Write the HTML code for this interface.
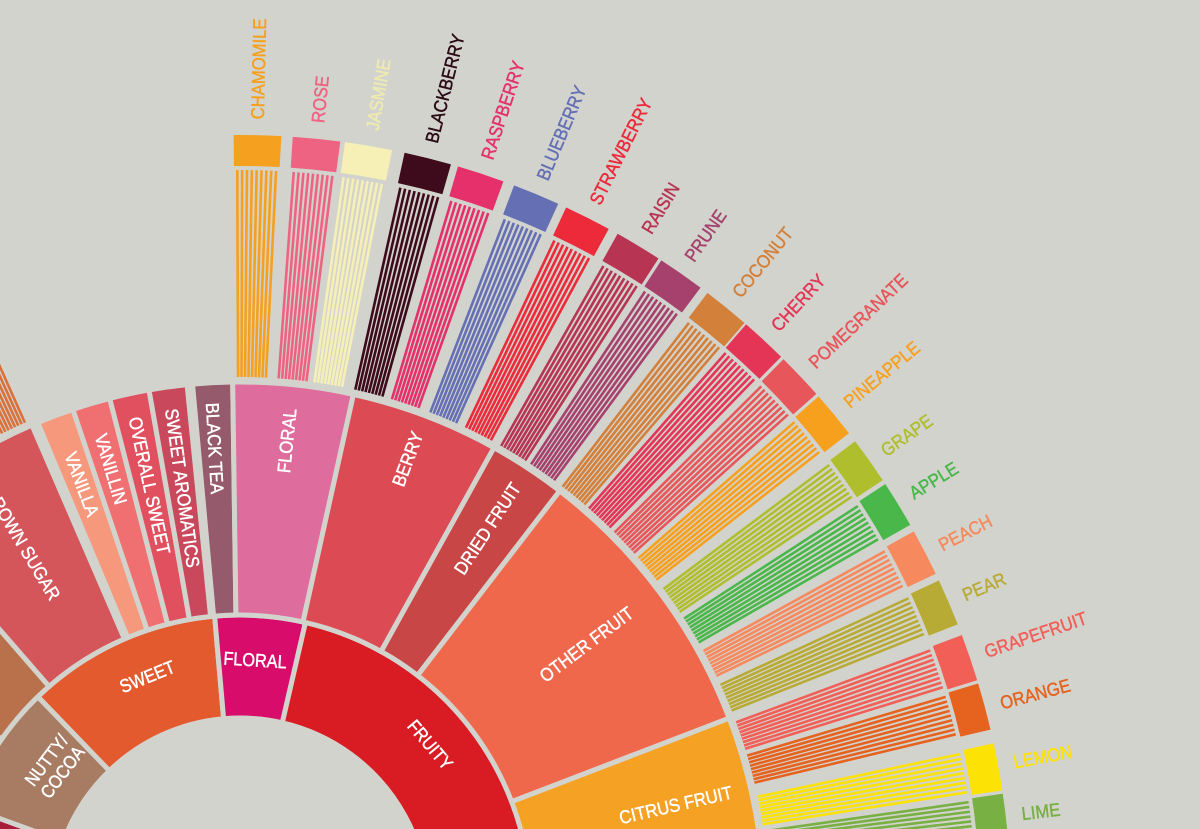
<!DOCTYPE html>
<html><head><meta charset="utf-8">
<style>
html,body{margin:0;padding:0;background:#d3d3ce;width:1200px;height:829px;overflow:hidden;}
svg{display:block;}
text{font-family:"Liberation Sans",sans-serif;stroke-width:0.45px;}
</style></head>
<body>
<svg id="s" width="1200" height="829" viewBox="0 0 1200 829" xmlns="http://www.w3.org/2000/svg">
<rect width="1200" height="829" fill="#d3d3ce"/>
<g id="shapes"></g>
<g id="labels" font-size="18.5">
<g fill="#f5a01f"><text transform="rotate(1.3,240,906) translate(240,119) rotate(-90) scale(0.9,1)" x="0" y="6">CHAMOMILE</text></g>
<g fill="#ef6382"><text transform="rotate(5.7,240,906) translate(240,119) rotate(-90) scale(0.9,1)" x="0" y="6">ROSE</text></g>
<g fill="#efeab0"><text transform="rotate(9.7,240,906) translate(240,119) rotate(-90) scale(0.9,1)" x="0" y="6">JASMINE</text></g>
<g fill="#2a0a14"><text transform="rotate(14.1,240,906) translate(240,119) rotate(-90) scale(0.9,1)" x="0" y="6">BLACKBERRY</text></g>
<g fill="#e5306b"><text transform="rotate(18.3,240,906) translate(240,119) rotate(-90) scale(0.9,1)" x="0" y="6">RASPBERRY</text></g>
<g fill="#6570b4"><text transform="rotate(22.6,240,906) translate(240,119) rotate(-90) scale(0.9,1)" x="0" y="6">BLUEBERRY</text></g>
<g fill="#ec2a3a"><text transform="rotate(26.8,240,906) translate(240,119) rotate(-90) scale(0.9,1)" x="0" y="6">STRAWBERRY</text></g>
<g fill="#b73453"><text transform="rotate(31.1,240,906) translate(240,119) rotate(-90) scale(0.9,1)" x="0" y="6">RAISIN</text></g>
<g fill="#a5416c"><text transform="rotate(34.8,240,906) translate(240,119) rotate(-90) scale(0.9,1)" x="0" y="6">PRUNE</text></g>
<g fill="#d3803a"><text transform="rotate(39.1,240,906) translate(240,119) rotate(-90) scale(0.9,1)" x="0" y="6">COCONUT</text></g>
<g fill="#e43556"><text transform="rotate(42.8,240,906) translate(240,119) rotate(-90) scale(0.9,1)" x="0" y="6">CHERRY</text></g>
<g fill="#e6565a"><text transform="rotate(46.6,240,906) translate(240,119) rotate(-90) scale(0.9,1)" x="0" y="6">POMEGRANATE</text></g>
<g fill="#f7a01e"><text transform="rotate(50.4,240,906) translate(240,119) rotate(-90) scale(0.9,1)" x="0" y="6">PINEAPPLE</text></g>
<g fill="#afbe2d"><text transform="rotate(54.8,240,906) translate(240,119) rotate(-90) scale(0.9,1)" x="0" y="6">GRAPE</text></g>
<g fill="#49b749"><text transform="rotate(58.5,240,906) translate(240,119) rotate(-90) scale(0.9,1)" x="0" y="6">APPLE</text></g>
<g fill="#f6895d"><text transform="rotate(62.8,240,906) translate(240,119) rotate(-90) scale(0.9,1)" x="0" y="6">PEACH</text></g>
<g fill="#b8ab35"><text transform="rotate(66.8,240,906) translate(240,119) rotate(-90) scale(0.9,1)" x="0" y="6">PEAR</text></g>
<g fill="#f15f57"><text transform="rotate(71.2,240,906) translate(240,119) rotate(-90) scale(0.9,1)" x="0" y="6">GRAPEFRUIT</text></g>
<g fill="#e5631f"><text transform="rotate(75.1,240,906) translate(240,119) rotate(-90) scale(0.9,1)" x="0" y="6">ORANGE</text></g>
<g fill="#fde305"><text transform="rotate(79.5,240,906) translate(240,119) rotate(-90) scale(0.9,1)" x="0" y="6">LEMON</text></g>
<g fill="#78b043"><text transform="rotate(83.3,240,906) translate(240,119) rotate(-90) scale(0.9,1)" x="0" y="6">LIME</text></g>
<g fill="#ffffff">
<text transform="rotate(5.8,240,906) translate(240,406) rotate(-90) scale(0.9,1)" x="0" y="6" text-anchor="end">FLORAL</text>
<text transform="rotate(20.6,240,906) translate(240,400) rotate(-90) scale(0.9,1)" x="0" y="6" text-anchor="end">BERRY</text>
<text transform="rotate(33.3,240,906) translate(240,402) rotate(-90) scale(0.9,1)" x="0" y="6" text-anchor="end">DRIED FRUIT</text>
<text transform="rotate(53,240,906) translate(240,416) rotate(-90) scale(0.9,1)" x="0" y="6" text-anchor="end">OTHER FRUIT</text>
<text transform="rotate(77,240,906) translate(240,401) rotate(-90) scale(0.9,1)" x="0" y="6" text-anchor="end">CITRUS FRUIT</text>
<text transform="rotate(-3.2,240,906) translate(240,402) rotate(90) scale(0.9,1)" x="0" y="6">BLACK TEA</text>
<text transform="rotate(-7.9,240,906) translate(240,404) rotate(90) scale(0.9,1)" x="0" y="6">SWEET AROMATICS</text>
<text transform="rotate(-12.2,240,906) translate(240,406) rotate(90) scale(0.9,1)" x="0" y="6">OVERALL SWEET</text>
<text transform="rotate(-16.5,240,906) translate(240,414) rotate(90) scale(0.9,1)" x="0" y="6">VANILLIN</text>
<text transform="rotate(-20.6,240,906) translate(240,422) rotate(90) scale(0.9,1)" x="0" y="6">VANILLA</text>
<text transform="rotate(-31,240,906) translate(240,420) rotate(90) scale(0.9,1)" x="0" y="6">BROWN SUGAR</text>
<text transform="rotate(-22,240,906) translate(240,659) scale(0.88,1)" x="0" y="6" text-anchor="middle">SWEET</text>
<text transform="rotate(3.5,240,906) translate(240,660) scale(0.88,1)" x="0" y="6" text-anchor="middle">FLORAL</text>
<text transform="rotate(49.7,240,906) translate(240,657) scale(0.88,1)" x="0" y="6" text-anchor="middle">FRUITY</text>
<text transform="rotate(-53,240,906) translate(240,674) scale(0.88,1)" x="0" y="-4" text-anchor="middle">NUTTY/</text>
<text transform="rotate(-53,240,906) translate(240,674) scale(0.88,1)" x="0" y="16" text-anchor="middle">COCOA</text>
</g>
</g>
</svg>
<script>
(function(){
var cx=240,cy=906,bg="#d3d3ce",NS="http://www.w3.org/2000/svg";
var g=document.getElementById("shapes");
function P(r,a){a=a*Math.PI/180;return [cx+r*Math.sin(a),cy-r*Math.cos(a)];}
function el(n,at){var e=document.createElementNS(NS,n);for(var k in at)e.setAttribute(k,at[k]);g.appendChild(e);return e;}
function sector(r0,r1,a0,a1,fill,sw){
 var p1=P(r1,a0),p2=P(r1,a1),p3=P(r0,a1),p4=P(r0,a0),L=(a1-a0)>180?1:0;
 var d="M"+p1+"A"+r1+","+r1+" 0 "+L+" 1 "+p2+"L"+p3+"A"+r0+","+r0+" 0 "+L+" 0 "+p4+"Z";
 el("path",{d:d,fill:fill,stroke:bg,"stroke-width":sw==null?5:sw});
}
[[-100,-70,"#a81d3a"],[-70,-44,"#a87b63"],[-44,-5,"#e35a2f"],[-5,13,"#d80d6b"],[13,110,"#d91c24"]]
.forEach(function(s){sector(188,291,s[0],s[1],s[2]);});
[[-90,-70,"#c45a5a"],[-70,-55,"#c98462"],[-55,-41,"#b8714b"],[-41,-23.4,"#d4555a"],
 [-22.7,-18.6,"#f6987b"],[-18.6,-14.4,"#f07072"],[-14.4,-10.0,"#e1505f"],[-10.0,-5.8,"#c9485b"],
 [-5.2,-0.8,"#955a6b"],[-0.8,12.5,"#de6c9c"],[12.5,29,"#dc4b53"],[29,37.6,"#c84645"],
 [37.6,69,"#f0684b"],[69,100,"#f5a124"]]
.forEach(function(s){sector(291,524,s[0],s[1],s[2]);});
var O=[[1.3,"#f5a01f"],[5.7,"#ef6382"],[9.6,"#f6f0b6"],[14.1,"#3d0b1c"],[18.2,"#e5306b"],[22.6,"#6570b4"],
[26.8,"#ec2a3a"],[31.1,"#b73453"],[34.9,"#a5416c"],[39.1,"#d3803a"],[42.8,"#e43556"],[46.6,"#e6565a"],
[50.4,"#f7a01e"],[54.7,"#afbe2d"],[58.6,"#49b749"],[62.7,"#f6895d"],[66.8,"#b8ab35"],[71.2,"#f15f57"],
[75.0,"#e5631f"],[79.6,"#fde305"],[83.4,"#78b043"]];
var hw=1.85;
function stripes(a0,a1,col){
 var n=Math.max(3,Math.round((a1-a0)*Math.PI/180*633/4.3));
 for(var i=0;i<n;i++){var a=a0+(i+0.5)*(a1-a0)/n;var p=P(529,a),q=P(736,a);
  el("line",{x1:p[0],y1:p[1],x2:q[0],y2:q[1],stroke:col,"stroke-width":2.6});}
}
O.forEach(function(o){stripes(o[0]-hw+0.15,o[0]+hw-0.15,o[1]);sector(739,772,o[0]-hw,o[0]+hw,o[1],2);});
stripes(-40.5,-23.8,"#d9713c");
var gs=document.querySelectorAll("#labels > g");
for(var i=0;i<gs.length;i++){gs[i].setAttribute("stroke",gs[i].getAttribute("fill"));}
})();
</script>
</body></html>
